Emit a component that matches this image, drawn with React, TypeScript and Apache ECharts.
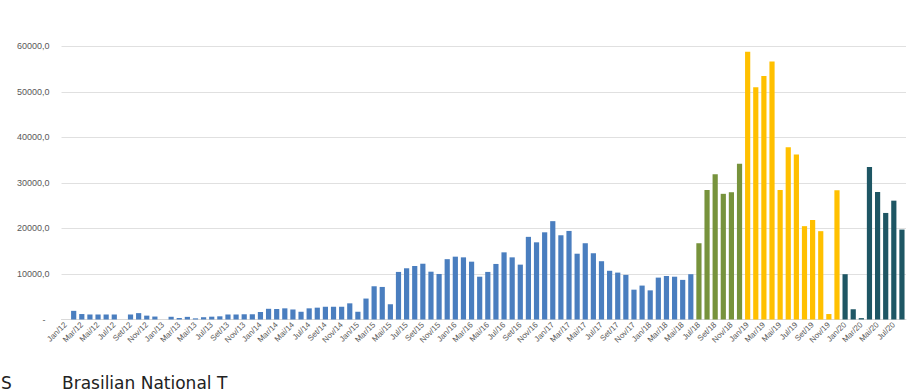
import React, { useEffect, useRef } from "react";
import * as echarts from "echarts";

const monthNames = ["Jan", "Fev", "Mar", "Abr", "Mai", "Jun", "Jul", "Ago", "Set", "Out", "Nov", "Dez"];
const years = ["12", "13", "14", "15", "16", "17", "18", "19", "20"];

const values2012 = [0, 1900, 1200, 1100, 1100, 1100, 1100, 0, 1100, 1400, 850, 650];
const values2013 = [0, 600, 330, 580, 250, 500, 620, 700, 1100, 1100, 1150, 1150];
const values2014 = [1650, 2350, 2300, 2450, 2200, 1700, 2450, 2600, 2800, 2800, 2800, 3550];
const values2015 = [1700, 4600, 7300, 7150, 3350, 10450, 11250, 11750, 12250, 10500, 10000, 13250];
const values2016 = [13800, 13650, 12700, 9400, 10450, 12200, 14750, 13650, 12050, 18150, 16950, 19150];
const values2017 = [21600, 18500, 19450, 14450, 16750, 14550, 12800, 10700, 10300, 9800, 6550, 7450];
const values2018 = [6400, 9200, 9550, 9400, 8700, 9950, 16750, 28450, 31900, 27600, 27950, 34200];
const values2019 = [58800, 51000, 53450, 56650, 28450, 37850, 36250, 20500, 21850, 19400, 1200, 28400];
const values2020 = [9950, 2250, 300, 33500, 28000, 23400, 26100, 19750];

const yTicks = [0, 10000, 20000, 30000, 40000, 50000, 60000];

const sourceLabel = "S";
const sourceText = "Brasilian National T";

const values = [
  ...values2012, ...values2013, ...values2014, ...values2015, ...values2016,
  ...values2017, ...values2018, ...values2019, ...values2020,
];

const categories: string[] = [];
years.forEach((y) => monthNames.forEach((m) => categories.push(m + "/" + y)));
categories.length = values.length;

const colorFor = (i: number) => {
  if (i < 78) return "#4a7ebf";
  if (i < 84) return "#77933c";
  if (i < 96) return "#ffc000";
  return "#1e5664";
};

export default function App() {
  const ref = useRef<HTMLDivElement>(null);
  useEffect(() => {
    document.body.style.margin = "0";
    const chart = echarts.init(ref.current!, undefined, { renderer: "svg" });
    chart.setOption({
      animation: false,
      backgroundColor: "#ffffff",
      grid: { left: 61.5, right: 11, top: 46.3, bottom: 72.5, containLabel: false },
      xAxis: {
        type: "category",
        data: categories,
        axisTick: { show: false },
        axisLine: { lineStyle: { color: "#d9d9d9" } },
        axisLabel: {
          interval: 1,
          rotate: 45,
          fontSize: 8,
          color: "#595959",
          fontFamily: "Liberation Sans",
          margin: 4,
        },
      },
      yAxis: {
        type: "value",
        min: yTicks[0],
        max: yTicks[yTicks.length - 1],
        interval: 10000,
        axisLine: { show: false },
        axisTick: { show: false },
        splitLine: { lineStyle: { color: "#e0e0e0" } },
        axisLabel: {
          fontSize: 9,
          color: "#595959",
          fontFamily: "Liberation Sans",
          margin: 12,
          formatter: (v: number) => (v === 0 ? "{z|-}" : v.toFixed(1).replace(".", ",")),
          rich: { z: { fontSize: 9, color: "#595959", padding: [0, 4, 0, 0] } },
        },
      },
      series: [
        {
          type: "bar",
          barCategoryGap: "36%",
          data: values.map((v, i) => ({ value: v, itemStyle: { color: colorFor(i) } })),
        },
      ],
      graphic: [
        {
          type: "text",
          left: 1,
          top: 374,
          style: { text: sourceLabel, fontSize: 17, lineHeight: 17, fontFamily: "DejaVu Sans", fill: "#222" },
        },
        {
          type: "text",
          left: 62,
          top: 374,
          style: { text: sourceText, fontSize: 17, lineHeight: 17, fontFamily: "DejaVu Sans", fill: "#222" },
        },
      ],
    });
    return () => chart.dispose();
  }, []);
  return <div ref={ref} style={{ width: 917, height: 392 }} />;
}
